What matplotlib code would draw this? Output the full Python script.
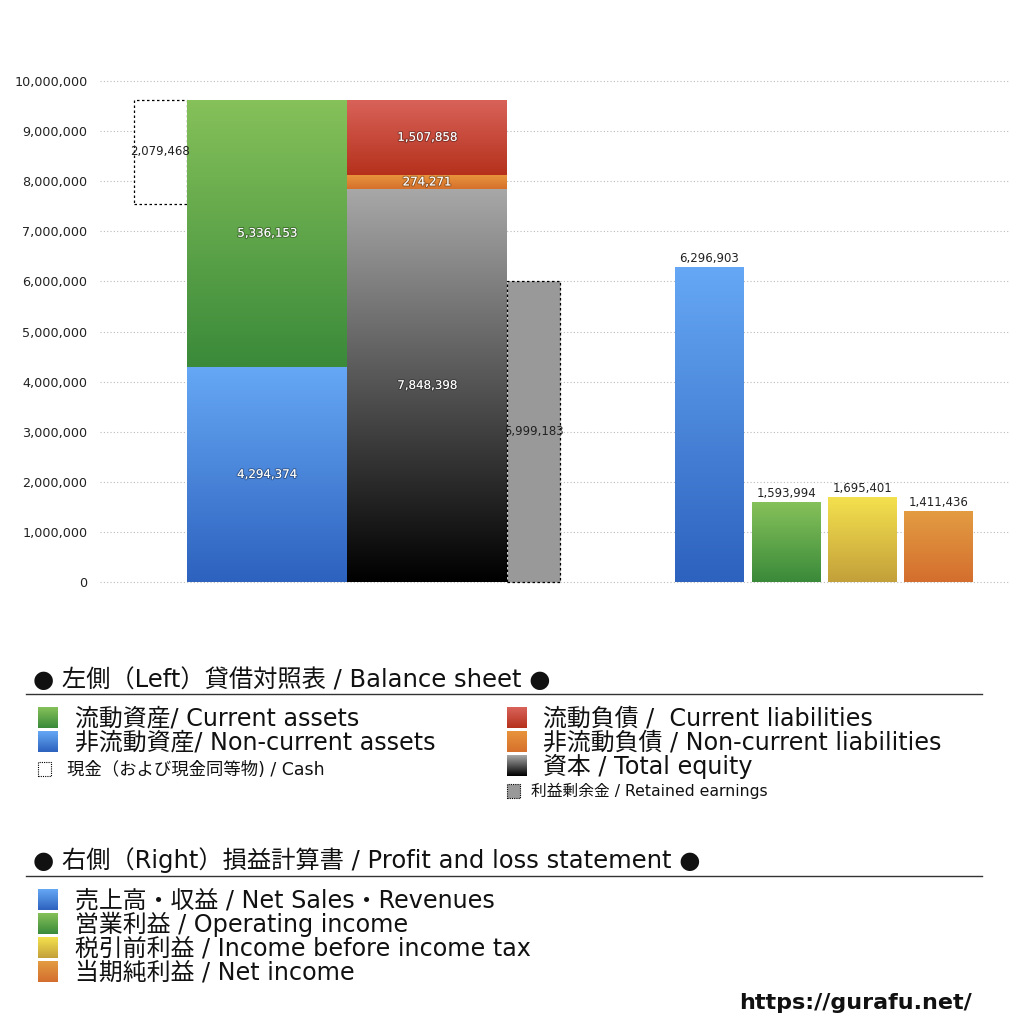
import numpy as np
import matplotlib.pyplot as plt
import matplotlib.patheffects as pe
from matplotlib.colors import LinearSegmentedColormap
from matplotlib.patches import Rectangle
from matplotlib.lines import Line2D
from matplotlib.ticker import FuncFormatter

plt.rcParams['font.family'] = ['DejaVu Sans', 'Noto Sans CJK JP']

# 貸借対照表 (左側)
assets = [4294374, 5336153]              # 非流動資産, 流動資産
liab_equity = [7848398, 274271, 1507858]  # 資本, 非流動負債, 流動負債
cash = 2079468
retained = 5999183
# 損益計算書 (右側)
pl_values = [6296903, 1593994, 1695401, 1411436]

W = H = 1024
fig = plt.figure(figsize=(10.24, 10.24), dpi=100)


def fx(x):
    return x / W


def fy(y):
    return 1 - y / H


# axes: 0 -> 582px, 10M -> 81px
ax = fig.add_axes([fx(100), fy(587), fx(910), (587 - 71) / H])
ax.set_xlim(0, 5.6875)
ax.set_ylim(-0.1e6, 10.2e6)


def grad_bar(x0, w, y0, h, top, bottom, z=3):
    rect = Rectangle((x0, y0), w, h, facecolor='none', edgecolor='none', zorder=z)
    ax.add_patch(rect)
    cmap = LinearSegmentedColormap.from_list('g', [bottom, top])
    img = ax.imshow(np.linspace(0, 1, 256).reshape(-1, 1), cmap=cmap, aspect='auto',
                    extent=(x0, x0 + w, y0, y0 + h), origin='lower', zorder=z,
                    interpolation='bilinear')
    img.set_clip_path(rect)
    return rect


shadow = [pe.withStroke(linewidth=1.5, foreground='#00000050')]

# cash (dotted box)
ax.add_patch(Rectangle((0.2125, sum(assets) - cash), 0.3315, cash, facecolor='white',
                       edgecolor='black', linestyle=(0, (2, 2)), linewidth=0.9, zorder=3))
ax.text(0.378, sum(assets) - cash / 2, f'{cash:,}', ha='center', va='center',
        fontsize=8.5, color='#222222', zorder=5)

# assets stack
asset_cols = [('#66a8f5', '#2d62be'), ('#86c15a', '#3a8a3a')]
bottom = 0
for v, (t, b) in zip(assets, asset_cols):
    grad_bar(0.544, 1.0, bottom, v, t, b)
    ax.text(1.044, bottom + v / 2, f'{v:,}', ha='center', va='center', fontsize=8.5,
            color='white', zorder=6, path_effects=shadow)
    bottom += v

# liabilities + equity stack
le_cols = [('#a8a8a8', '#000000'), ('#e8943c', '#d6702c'), ('#d9635a', '#b5311c')]
bottom = 0
for v, (t, b) in zip(liab_equity, le_cols):
    grad_bar(1.544, 1.0, bottom, v, t, b)
    ax.text(2.044, bottom + v / 2, f'{v:,}', ha='center', va='center', fontsize=8.5,
            color='white', zorder=6, path_effects=shadow)
    bottom += v

# retained earnings (dotted gray)
ax.add_patch(Rectangle((2.544, 0), 0.3315, retained, facecolor='#999999',
                       edgecolor='black', linestyle=(0, (2, 2)), linewidth=0.9, zorder=3))
ax.text(2.71, retained / 2, f'{retained:,}', ha='center', va='center',
        fontsize=8.5, color='#222222', zorder=5)

# profit and loss bars
pl_x = [3.594, 4.075, 4.55, 5.025]
pl_cols = [('#66a8f5', '#2d62be'), ('#86c15a', '#3a8a3a'),
           ('#f4e14e', '#c3a03a'), ('#e39c42', '#d46e2e')]
for x, v, (t, b) in zip(pl_x, pl_values, pl_cols):
    grad_bar(x, 0.43, 0, v, t, b)
    ax.text(x + 0.215, v + 0.04e6, f'{v:,}', ha='center', va='bottom', fontsize=8.5,
            color='#222222', zorder=5)

ax.set_yticks(np.arange(0, 10.5e6, 1e6))
ax.yaxis.set_major_formatter(FuncFormatter(lambda v, p: f'{int(v):,}'))
ax.tick_params(axis='y', length=0, pad=9, labelsize=9.2, labelcolor='#222222')
ax.set_xticks([])
ax.grid(axis='y', color='#bbbbbb', linestyle=(0, (1, 2)), linewidth=0.8, zorder=0)
ax.set_axisbelow(True)
for s in ax.spines.values():
    s.set_visible(False)


# legend area
def grad_square(x, y, w, h, top, bot, dotted=False, face=None):
    a = fig.add_axes([fx(x), fy(y + h), fx(w), h / H])
    if dotted:
        a.add_patch(Rectangle((0, 0), 1, 1, facecolor=face or 'white', edgecolor='black',
                              linestyle=(0, (1, 1)), linewidth=0.8, transform=a.transAxes,
                              clip_on=False))
        a.set_xlim(0, 1)
        a.set_ylim(0, 1)
        for s in a.spines.values():
            s.set_visible(False)
        a.set_xticks([])
        a.set_yticks([])
        a.patch.set_alpha(0)
        return
    a.set_axis_off()
    cmap = LinearSegmentedColormap.from_list('g', [bot, top])
    a.imshow(np.linspace(0, 1, 64).reshape(-1, 1), cmap=cmap, aspect='auto',
             origin='lower', interpolation='bilinear')


def heading(y, s, ly):
    fig.text(fx(33), fy(y), s, fontsize=17.5, va='center', ha='left', color='#111111')
    fig.add_artist(Line2D([fx(26), fx(982)], [fy(ly), fy(ly)], color='#333333', lw=1))


ITEM = 17.2

heading(680, '● 左側（Left）貸借対照表 / Balance sheet ●', 694)
items_left = [
    (718, '流動資産/ Current assets', asset_cols[1]),
    (742, '非流動資産/ Non-current assets', asset_cols[0]),
]
for y, s, (t, b) in items_left:
    grad_square(38, y - 11, 20, 21, t, b)
    fig.text(fx(75), fy(y), s, fontsize=ITEM, va='center', ha='left', color='#111111')
grad_square(38, 762, 13, 14, None, None, dotted=True)
fig.text(fx(67), fy(770), '現金（および現金同等物) / Cash', fontsize=12.5, va='center',
         ha='left', color='#111111')

items_right = [
    (718, '流動負債 /  Current liabilities', le_cols[2]),
    (742, '非流動負債 / Non-current liabilities', le_cols[1]),
    (766, '資本 / Total equity', le_cols[0]),
]
for y, s, (t, b) in items_right:
    grad_square(507, y - 11, 20, 21, t, b)
    fig.text(fx(543), fy(y), s, fontsize=ITEM, va='center', ha='left', color='#111111')
grad_square(507, 784, 13, 14, None, None, dotted=True, face='#999999')
fig.text(fx(531), fy(791), '利益剰余金 / Retained earnings', fontsize=11.3, va='center',
         ha='left', color='#111111')

heading(860, '● 右側（Right）損益計算書 / Profit and loss statement ●', 876)
pl_labels = ['売上高・収益 / Net Sales・Revenues', '営業利益 / Operating income',
             '税引前利益 / Income before income tax', '当期純利益 / Net income']
for i, (s, (t, b)) in enumerate(zip(pl_labels, pl_cols)):
    y = 900 + 24 * i
    grad_square(38, y - 11, 20, 21, t, b)
    fig.text(fx(75), fy(y), s, fontsize=ITEM, va='center', ha='left', color='#111111')

fig.text(fx(972), fy(1003), 'https://gurafu.net/', fontsize=16, fontweight='bold',
         va='center', ha='right', color='#111111')

fig.savefig('out.png', dpi=100, facecolor='white')
